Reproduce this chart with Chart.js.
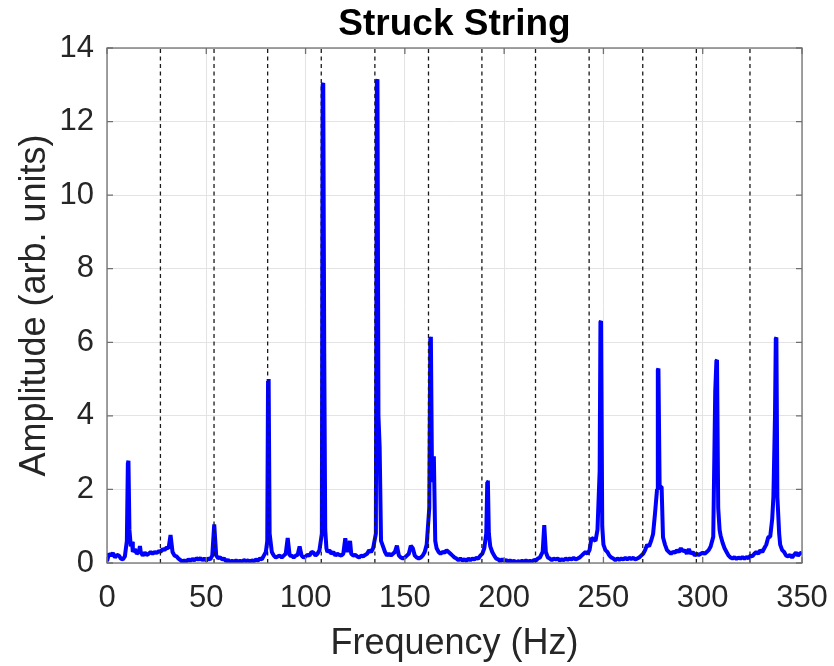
<!DOCTYPE html>
<html>
<head>
<meta charset="utf-8">
<title>Struck String</title>
<script src="https://cdn.jsdelivr.net/npm/chart.js@4.4.1/dist/chart.umd.min.js"></script>
<style>
  html, body { margin: 0; padding: 0; background: #fff; }
  #wrap { width: 834px; height: 666px; }
</style>
</head>
<body>
<div id="wrap"><canvas id="cnv" width="834" height="666"></canvas></div>
<script>
'use strict';
// Amplitude spectrum of a struck string, with dashed markers at the harmonic series.

const chartTitle = 'Struck String';
const xTitle = 'Frequency (Hz)';
const yTitle = 'Amplitude (arb. units)';
const xTicks = [0, 50, 100, 150, 200, 250, 300, 350];
const yTicks = [0, 2, 4, 6, 8, 10, 12, 14];

// harmonic markers (Hz)
const harmonics = [26.9, 53.9, 80.9, 107.9, 134.9, 161.9, 188.8, 215.8, 242.8, 269.8, 296.8, 323.8];

// [frequency Hz, amplitude]
const spectrum = [
  [0,0.05],[1,0.25],[2,0.2],[3,0.27],[4,0.15],[5,0.22],[6,0.2],[7,0.12],[8,0.1],[9,0.18],
  [10,0.6],[10.5,2.7],[10.8,2.78],[11.3,0.9],[12,0.45],[12.6,0.58],[13,0.3],[14,0.38],[15,0.25],[16,0.3],[16.6,0.46],
  [17,0.3],[18,0.2],[19,0.28],[20,0.22],[21,0.25],[22,0.3],[23,0.25],[24,0.3],[25,0.27],[26,0.32],
  [27,0.3],[28,0.38],[29,0.35],[30,0.42],[31,0.4],[32,0.76],[33,0.3],[34,0.2],[35,0.18],[36,0.12],
  [37,0.08],[38,0.03],[39,0.07],[40,0.04],[41,0.1],[42,0.06],[43,0.11],[44,0.07],[45,0.13],[46,0.09],
  [47,0.13],[48,0.08],[49,0.12],[50,0.07],[51,0.12],[52,0.1],[53,0.2],[54,1.05],[55,0.2],[56,0.13],
  [57,0.15],[58,0.1],[59,0.12],[60,0.05],[61,0.08],[62,0.03],[63,0.06],[64,0.03],[65,0.07],[66,0.03],
  [67,0.06],[68,0.04],[69,0.08],[70,0.05],[71,0.07],[72,0.04],[73,0.07],[74,0.05],[75,0.09],[76,0.07],
  [77,0.12],[78,0.1],[79,0.2],[80,0.3],[80.7,0.6],[81.1,4.95],[81.4,5.0],[81.9,0.8],[83,0.3],[84,0.2],[85,0.15],
  [86,0.18],[87,0.2],[88,0.15],[89,0.2],[90,0.25],[91,0.68],[92,0.2],[93,0.2],[94,0.15],[95,0.2],
  [96,0.22],[97,0.45],[98,0.2],[99,0.15],[100,0.18],[101,0.22],[102,0.2],[103,0.3],[104,0.28],[105,0.2],
  [106,0.25],[107,0.35],[108.2,0.8],[108.6,13.0],[108.9,13.05],[109.4,5.7],[109.9,0.9],[110.5,0.4],[111,0.3],[112,0.35],[113,0.25],
  [114,0.3],[115,0.2],[116,0.25],[117,0.22],[118,0.2],[119,0.25],[120,0.67],[121,0.3],[122.4,0.6],[123,0.25],
  [124,0.2],[125,0.22],[126,0.18],[127,0.15],[128,0.2],[129,0.18],[130,0.22],[131,0.25],[132,0.35],[133,0.3],
  [134,0.4],[135.4,0.8],[135.9,13.1],[136.2,13.15],[136.7,4.0],[137.3,3.15],[138,0.6],[139,0.45],[140,0.3],[141,0.2],[142,0.25],
  [143,0.2],[144,0.25],[145,0.3],[146,0.47],[147,0.2],[148,0.15],[149,0.12],[150,0.15],[151,0.2],[152,0.25],
  [153,0.47],[154,0.4],[155,0.2],[156,0.15],[157,0.12],[158,0.15],[159,0.2],[160,0.3],[161,0.5],[162.3,1.5],
  [162.8,6.1],[163.1,6.15],[163.7,2.2],[164.6,2.9],[165.3,0.6],[166,0.4],[167,0.3],[168,0.25],[169,0.3],[170,0.28],[171,0.35],
  [172,0.3],[173,0.25],[174,0.2],[175,0.15],[176,0.12],[177,0.08],[178,0.12],[179,0.07],[180,0.1],[181,0.06],
  [182,0.12],[183,0.08],[184,0.12],[185,0.1],[186,0.14],[187,0.12],[188,0.2],[189,0.25],[190,0.4],[191,0.8],
  [191.5,2.2],[191.8,2.24],[192.3,0.8],[193,0.45],[194,0.3],[195,0.2],[196,0.12],[197,0.1],[198,0.05],[199,0.1],[200,0.06],
  [201,0.08],[202,0.03],[203,0.07],[204,0.04],[205,0.06],[206,0.02],[207,0.05],[208,0.03],[209,0.06],[210,0.03],
  [211,0.07],[212,0.04],[213,0.06],[214,0.04],[215,0.08],[216,0.07],[217,0.12],[218,0.15],[219.4,0.3],[220.2,1.03],
  [221,0.3],[222,0.15],[223,0.12],[224,0.08],[225,0.12],[226,0.1],[227,0.12],[228,0.07],[229,0.1],[230,0.08],
  [231,0.12],[232,0.09],[233,0.12],[234,0.1],[235,0.14],[236,0.1],[237,0.12],[238,0.15],[239,0.2],[240,0.25],
  [241,0.3],[242,0.25],[243,0.35],[244,0.68],[245,0.65],[246,0.6],[247,0.9],[248.1,2.5],[248.5,6.55],[248.8,6.58],[249.4,1.0],
  [250,0.5],[251,0.35],[252,0.3],[253,0.2],[254,0.15],[255,0.12],[256,0.08],[257,0.12],[258,0.09],[259,0.12],
  [260,0.1],[261,0.14],[262,0.1],[263,0.14],[264,0.11],[265,0.14],[266,0.1],[267,0.12],[268,0.15],[269,0.2],
  [270,0.25],[271,0.35],[272,0.5],[273,0.45],[274,0.6],[275,0.79],[276,1.36],[277,2.0],[277.4,5.25],[277.7,5.29],[278.3,2.07],
  [279.3,2.07],[280,0.7],[281,0.5],[282,0.35],[283,0.3],[284,0.25],[285,0.3],[286,0.28],[287,0.35],[288,0.3],
  [289,0.4],[290,0.32],[291,0.35],[292,0.25],[293,0.38],[294,0.25],[295,0.3],[296,0.2],[297,0.25],[298,0.22],
  [299,0.25],[300,0.28],[301,0.25],[302,0.3],[303,0.35],[304,0.45],[305.3,0.71],[306.3,4.65],[306.9,5.5],[307.2,5.52],[307.8,1.5],
  [308.5,0.9],[309,0.75],[310,0.55],[311,0.4],[312,0.3],[313,0.2],[314,0.15],[315,0.12],[316,0.16],[317,0.11],
  [318,0.15],[319,0.12],[320,0.16],[321,0.12],[322,0.16],[323,0.13],[324,0.2],[325,0.18],[326,0.25],[327,0.3],
  [328,0.25],[329,0.35],[330,0.3],[331,0.4],[332,0.5],[333,0.7],[334,0.72],[335,1.2],[335.6,1.8],[336.4,4.0],
  [336.8,6.1],[337.1,6.13],[337.6,1.8],[338.5,0.8],[339,0.5],[340,0.35],[341,0.3],[342,0.2],[343,0.18],[344,0.22],[345,0.15],
  [346,0.22],[347,0.28],[348,0.2],[349,0.26],[350,0.28]
];

const AXIS = '#262626';
const BOX = '#707070';
const FONT = "'Liberation Sans', Arial, Helvetica, sans-serif";

// MATLAB-style box with inward tick marks on all four sides
const boxTicks = {
  id: 'boxTicks',
  afterDraw(chart) {
    const { ctx, chartArea: a, scales: { x, y } } = chart;
    const len = 6;
    ctx.save();
    ctx.strokeStyle = BOX;
    ctx.lineWidth = 1.3;
    ctx.strokeRect(a.left, a.top, a.right - a.left, a.bottom - a.top);
    ctx.beginPath();
    xTicks.forEach((v) => {
      const px = x.getPixelForValue(v);
      ctx.moveTo(px, a.bottom); ctx.lineTo(px, a.bottom - len);
      ctx.moveTo(px, a.top); ctx.lineTo(px, a.top + len);
    });
    yTicks.forEach((v) => {
      const py = y.getPixelForValue(v);
      ctx.moveTo(a.left, py); ctx.lineTo(a.left + len, py);
      ctx.moveTo(a.right, py); ctx.lineTo(a.right - len, py);
    });
    ctx.stroke();
    ctx.restore();
  }
};

const markerSets = harmonics.map((h) => ({
  data: [{ x: h, y: yTicks[0] }, { x: h, y: yTicks[yTicks.length - 1] }],
  borderColor: '#1a1a1a', borderWidth: 1.3, borderDash: [4, 3.5],
  pointRadius: 0, order: 0
}));

new Chart(document.getElementById('cnv').getContext('2d'), {
  type: 'line',
  data: {
    datasets: [
      ...markerSets,
      {
        data: spectrum.map(([f, a]) => ({ x: f, y: a })),
        borderColor: '#0000ff', borderWidth: 4, borderJoinStyle: 'bevel',
        pointRadius: 0, tension: 0, order: 1
      }
    ]
  },
  options: {
    responsive: false, animation: false, events: [],
    layout: { padding: { left: 0, right: 32, top: 0, bottom: 0 } },
    plugins: {
      legend: { display: false },
      tooltip: { enabled: false },
      title: {
        display: true, text: chartTitle, color: '#000', fullSize: false,
        font: { family: FONT, size: 37, weight: 'bold' },
        padding: { top: 3, bottom: 0.6 }
      }
    },
    scales: {
      x: {
        type: 'linear', min: 0, max: 350,
        afterFit: (s) => { s.height = 103; s.paddingLeft = 0; s.paddingRight = 0; },
        afterBuildTicks: (s) => { s.ticks = xTicks.map((v) => ({ value: v })); },
        grid: { color: '#e3e3e3', drawTicks: false },
        border: { display: false },
        ticks: { color: AXIS, padding: 17, font: { family: FONT, size: 31 }, maxRotation: 0 },
        title: { display: true, text: xTitle, color: AXIS, font: { family: FONT, size: 36 }, padding: { top: 0, bottom: 0 } }
      },
      y: {
        type: 'linear', min: 0, max: 14,
        afterFit: (s) => { s.width = 107; s.paddingTop = 0; s.paddingBottom = 0; },
        afterBuildTicks: (s) => { s.ticks = yTicks.map((v) => ({ value: v })); },
        grid: { color: '#e3e3e3', drawTicks: false },
        border: { display: false },
        ticks: { color: AXIS, padding: 13, font: { family: FONT, size: 31 } },
        title: { display: true, text: yTitle, color: AXIS, font: { family: FONT, size: 36 }, padding: { top: 13, bottom: 0 } }
      }
    }
  },
  plugins: [boxTicks]
});
</script>
</body>
</html>
